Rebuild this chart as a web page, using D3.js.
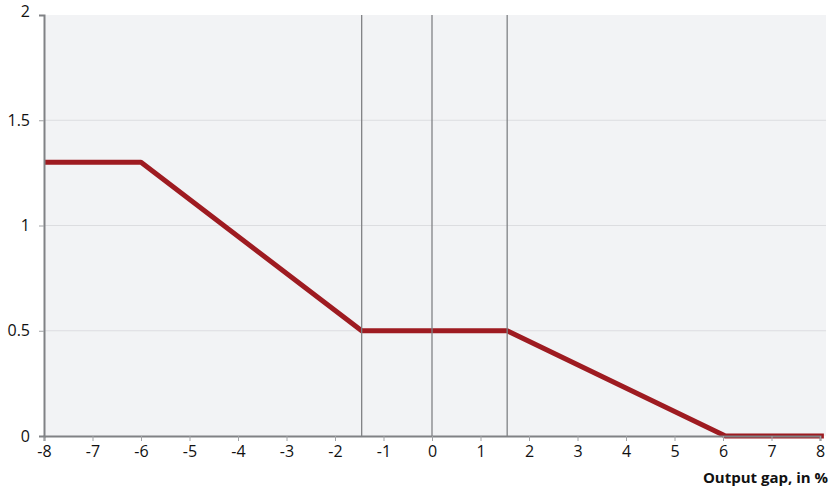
<!DOCTYPE html>
<html>
<head>
<meta charset="utf-8">
<script src="https://cdn.jsdelivr.net/npm/d3@7"></script>
<style>
  body { margin: 0; background: #fff; }
  text { font-family: "Open Sans", Lato, sans-serif; fill: #111; }
</style>
</head>
<body>
<script>
// data
const gapX = [-8, -6, -1.45, 1.55, 6.05, 8.08];
const rateY = [1.3, 1.3, 0.5, 0.5, 0, 0];
const markerX = [-1.45, 0, 1.55];
const xTicks = d3.range(-8, 9, 1);
const yTicks = [0, 0.5, 1, 1.5, 2];
const xLabel = "Output gap, in %";

const width = 831, height = 489;
const margin = {top: 15, right: 11, bottom: 53, left: 44};

const svg = d3.select("body").append("svg")
  .attr("width", width)
  .attr("height", height);

const x = d3.scaleLinear().domain([-8, 8]).range([margin.left, width - margin.right]);
const y = d3.scaleLinear().domain([0, 2]).range([height - margin.bottom, margin.top]);

// plot background
svg.append("rect")
  .attr("x", x(-8)).attr("y", y(2))
  .attr("width", x(8) - x(-8) + 6).attr("height", y(0) - y(2))
  .attr("fill", "#f2f3f5");

// horizontal gridlines
svg.selectAll(".grid")
  .data(yTicks.filter(d => d > 0 && d < 2))
  .enter().append("line")
  .attr("x1", x(-8)).attr("x2", x(8) + 6)
  .attr("y1", d => y(d)).attr("y2", d => y(d))
  .attr("stroke", "#dcdde0").attr("stroke-width", 1);

// red line
const line = d3.line().x(d => x(d[0])).y(d => y(d[1]));
svg.append("path")
  .datum(gapX.map((g, i) => [g, rateY[i]]))
  .attr("d", line)
  .attr("fill", "none")
  .attr("stroke", "#9e1b21")
  .attr("stroke-width", 5)
  .attr("stroke-linejoin", "round");

// vertical marker lines
svg.selectAll(".marker")
  .data(markerX)
  .enter().append("line")
  .attr("x1", d => x(d)).attr("x2", d => x(d))
  .attr("y1", y(2)).attr("y2", y(0))
  .attr("stroke", "#808285").attr("stroke-width", 1.3);

const fmt = d => String(d); // plain hyphen for negatives

// x axis
const xAxis = svg.append("g")
  .attr("transform", "translate(0," + y(0) + ")")
  .call(d3.axisBottom(x).tickValues(xTicks).tickSize(5).tickPadding(5).tickFormat(fmt));
xAxis.select(".domain").attr("stroke", "#808285").attr("stroke-width", 2);
xAxis.selectAll(".tick line").attr("stroke", "#a0a2a5");
xAxis.selectAll(".tick text").style("font-size", "16px").attr("fill", "#111");

// y axis
const yAxis = svg.append("g")
  .attr("transform", "translate(" + x(-8) + ",0)")
  .call(d3.axisLeft(y).tickValues(yTicks).tickSize(5).tickPadding(9).tickFormat(fmt));
yAxis.select(".domain").attr("stroke", "#808285").attr("stroke-width", 2);
yAxis.selectAll(".tick line").attr("stroke", "#a0a2a5");
yAxis.selectAll(".tick text").style("font-size", "16px").attr("fill", "#111");
yAxis.selectAll(".tick").filter(d => d === 0 || d === 2).select("line").remove();
yAxis.selectAll(".tick").filter(d => d === 2).select("text").attr("dy", "0.1em");

// x axis label
svg.append("text")
  .attr("x", 828).attr("y", 483)
  .attr("text-anchor", "end")
  .style("font-size", "15px")
  .style("font-weight", "bold")
  .text(xLabel);
</script>
</body>
</html>
